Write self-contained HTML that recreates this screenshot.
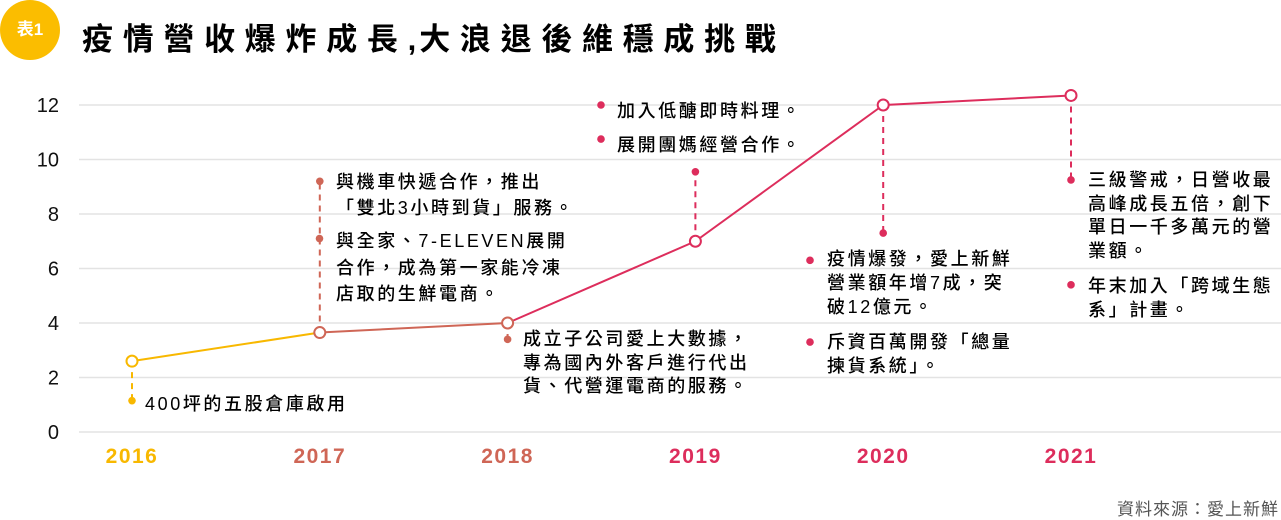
<!DOCTYPE html>
<html><head><meta charset="utf-8">
<style>
body{margin:0;background:#fff;width:1281px;height:520px;overflow:hidden;position:relative;font-family:"Liberation Sans","Noto Sans CJK TC",sans-serif;color:#111}
.note{position:absolute;font-size:18px;font-weight:500;letter-spacing:2.6px;line-height:24px;color:#000;white-space:nowrap}
#title{position:absolute;left:82px;top:14px;font-size:31px;font-weight:bold;letter-spacing:9.7px;color:#000;white-space:nowrap}
#badge{position:absolute;left:0;top:0;width:60px;height:60px;border-radius:50%;background:#fbbd00;color:#fff;font-weight:bold;font-size:17px;text-align:center;line-height:60px}
#source{position:absolute;right:2px;top:495px;font-size:17px;color:#555;letter-spacing:1px}
</style></head><body>
<div id="badge">表1</div>
<div id="title">疫情營收爆炸成長<span style="font-family:'Liberation Sans',sans-serif;letter-spacing:3px">,</span>大浪退後維穩成挑戰</div>
<svg id="chart" width="1281" height="520" style="position:absolute;left:0;top:0"></svg>
<div class="note" style="left:145px;top:392px">400坪的五股倉庫啟用</div>
<div class="note" style="left:336px;top:169px;line-height:26px">與機車快遞合作，推出<br>「雙北3小時到貨」服務。</div>
<div class="note" style="left:336px;top:228px;line-height:26.5px">與全家、7-ELEVEN展開<br>合作，成為第一家能冷凍<br>店取的生鮮電商。</div>
<div class="note" style="left:523px;top:328px;line-height:23.5px">成立子公司愛上大數據，<br>專為國內外客戶進行代出<br>貨、代營運電商的服務。</div>
<div class="note" style="left:617px;top:99px">加入低醣即時料理。</div>
<div class="note" style="left:617px;top:133px">展開團媽經營合作。</div>
<div class="note" style="left:827px;top:247px">疫情爆發，愛上新鮮<br>營業額年增7成，突<br>破12億元。</div>
<div class="note" style="left:827px;top:330px">斥資百萬開發「總量<br>揀貨系統」。</div>
<div class="note" style="left:1088px;top:169px;line-height:23.5px">三級警戒，日營收最<br>高峰成長五倍，創下<br>單日一千多萬元的營<br>業額。</div>
<div class="note" style="left:1088px;top:274px">年末加入「跨域生態<br>系」計畫。</div>
<div id="source">資料來源：愛上新鮮</div>
<script>
const years=["2016","2017","2018","2019","2020","2021"];
const revenue=[2.6,3.65,4.0,7.0,12.0,12.35];
const yTicks=[0,2,4,6,8,10,12];
const noteDotValues=[1.15,9.2,3.4,9.55,7.3,9.25];
const colors=["#f8b800","#cf6656","#cf6656","#dd2d5c","#dd2d5c","#dd2d5c"];
const NS="http://www.w3.org/2000/svg";
const svg=document.getElementById('chart');
const xs=[132,319.5,507,694,881,1071];
function X(i){return xs[0]+i*(xs[5]-xs[0])/5;}
function Y(v){return 432-v*(432-105)/12;}
function mk(t,a){const e=document.createElementNS(NS,t);for(const k in a)e.setAttribute(k,a[k]);svg.appendChild(e);return e;}
yTicks.forEach(t=>{
 const g=mk('line',{x1:79,x2:1281,y1:Y(t),y2:Y(t),stroke:'#e3e3e3','stroke-width':1.5});
 
 
 const l=mk('text',{x:59,y:Y(t)+7,'text-anchor':'end','font-size':20,fill:'#111','font-family':'Liberation Sans, sans-serif'});
 l.textContent=t;
 
 
});
years.forEach((y,i)=>{
 const t=mk('text',{x:X(i),y:463,'text-anchor':'middle','font-size':21,'font-weight':'bold',fill:colors[i],'letter-spacing':1.5,'font-family':'Liberation Sans, sans-serif'});
 t.textContent=y;
 
 
});
years.forEach((y,i)=>{
 const d=mk('line',{x1:X(i),x2:X(i),y1:Y(revenue[i]),y2:Y(noteDotValues[i]),stroke:colors[i],'stroke-width':2,'stroke-dasharray':'6,5'});
 
 
 const c=mk('circle',{cx:X(i),cy:Y(noteDotValues[i]),r:3.8,fill:colors[i]});
 
 
});
[[319.5,7.1,1],[601,12.0,3],[601,10.75,3],[810,6.3,4],[810,3.3,4],[1071,5.4,5]].forEach(b=>{
 const c=mk('circle',{cx:b[0],cy:Y(b[1]),r:3.8,fill:colors[b[2]]});
 
 
});
for(let i=0;i<years.length-1;i++){
 const s=mk('line',{x1:X(i),y1:Y(revenue[i]),x2:X(i+1),y2:Y(revenue[i+1]),stroke:colors[i+1],'stroke-width':2});
 if(i===0)s.setAttribute('stroke',colors[0]);
 
 
}
years.forEach((y,i)=>{
 const p=mk('circle',{cx:X(i),cy:Y(revenue[i]),r:5.5,fill:'#fff',stroke:colors[i],'stroke-width':2});
 
 
});
</script>
</body></html>
